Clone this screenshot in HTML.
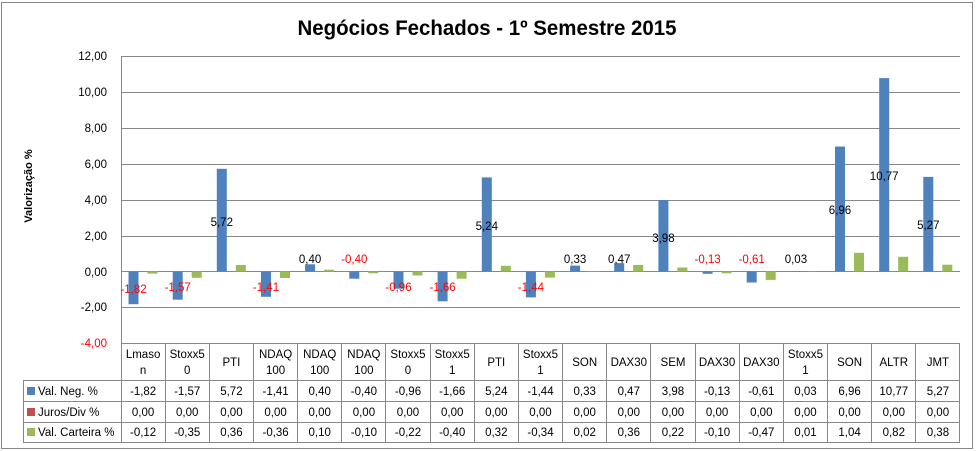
<!DOCTYPE html>
<html><head><meta charset="utf-8"><style>
html,body{margin:0;padding:0;background:#fff;}
svg{display:block;font-family:"Liberation Sans",sans-serif;}
.t{font-size:11.5px;fill:#000;text-anchor:middle;}
.r{font-size:11.5px;fill:#ff0000;text-anchor:middle;}
.y{font-size:11.5px;fill:#000;text-anchor:end;}
.l{font-size:11.5px;fill:#000;}
</style></head><body>
<svg width="976" height="451" viewBox="0 0 976 451" xmlns="http://www.w3.org/2000/svg">
<rect x="1.5" y="2.5" width="971" height="446" fill="#fff" stroke="#888"/>
<text x="487" y="35" font-size="21" font-weight="bold" text-anchor="middle" textLength="379" lengthAdjust="spacingAndGlyphs">Negócios Fechados - 1º Semestre 2015</text>
<text transform="translate(32,186) rotate(-90)" font-size="11" font-weight="bold" text-anchor="middle">Valorização %</text>
<g stroke="#888" stroke-width="1">
<line x1="121" y1="56.5" x2="960" y2="56.5"/>
<line x1="121" y1="92.5" x2="960" y2="92.5"/>
<line x1="121" y1="128.5" x2="960" y2="128.5"/>
<line x1="121" y1="164.5" x2="960" y2="164.5"/>
<line x1="121" y1="200.5" x2="960" y2="200.5"/>
<line x1="121" y1="236.5" x2="960" y2="236.5"/>
<line x1="121" y1="271.5" x2="960" y2="271.5"/>
<line x1="121" y1="307.5" x2="960" y2="307.5"/>
<line x1="121" y1="343.5" x2="960" y2="343.5"/>
<line x1="121.5" y1="56" x2="121.5" y2="443"/>
</g>
<g>
<text class="y" x="107" y="60">12,00</text>
<text class="y" x="107" y="96">10,00</text>
<text class="y" x="107" y="132">8,00</text>
<text class="y" x="107" y="168">6,00</text>
<text class="y" x="107" y="204">4,00</text>
<text class="y" x="107" y="240">2,00</text>
<text class="y" x="107" y="276">0,00</text>
<text class="y" x="107" y="311">-2,00</text>
<text class="y" x="107" y="347" style="fill:#ff0000">-4,00</text>
</g>
<g fill="#4F81BD">
<rect x="128.5" y="271.5" width="10" height="32.7"/>
<rect x="172.7" y="271.5" width="10" height="28.2"/>
<rect x="216.8" y="168.8" width="10" height="102.7"/>
<rect x="261" y="271.5" width="10" height="25.3"/>
<rect x="305.1" y="264.3" width="10" height="7.2"/>
<rect x="349.3" y="271.5" width="10" height="7.2"/>
<rect x="393.5" y="271.5" width="10" height="17.2"/>
<rect x="437.6" y="271.5" width="10" height="29.8"/>
<rect x="481.8" y="177.4" width="10" height="94.1"/>
<rect x="525.9" y="271.5" width="10" height="25.9"/>
<rect x="570.1" y="265.6" width="10" height="5.9"/>
<rect x="614.2" y="263.1" width="10" height="8.4"/>
<rect x="658.4" y="200" width="10" height="71.5"/>
<rect x="702.6" y="271.5" width="10" height="2.3"/>
<rect x="746.7" y="271.5" width="10" height="11"/>
<rect x="790.9" y="271" width="10" height="0.5"/>
<rect x="835" y="146.5" width="10" height="125"/>
<rect x="879.2" y="78.1" width="10" height="193.4"/>
<rect x="923.3" y="176.9" width="10" height="94.6"/>
</g>
<g fill="#9BBB59">
<rect x="147.5" y="271.5" width="10" height="2.2"/>
<rect x="191.7" y="271.5" width="10" height="6.3"/>
<rect x="235.8" y="265" width="10" height="6.5"/>
<rect x="280" y="271.5" width="10" height="6.5"/>
<rect x="324.1" y="269.7" width="10" height="1.8"/>
<rect x="368.3" y="271.5" width="10" height="1.8"/>
<rect x="412.5" y="271.5" width="10" height="4"/>
<rect x="456.6" y="271.5" width="10" height="7.2"/>
<rect x="500.8" y="265.8" width="10" height="5.7"/>
<rect x="544.9" y="271.5" width="10" height="6.1"/>
<rect x="589.1" y="271.1" width="10" height="0.4"/>
<rect x="633.2" y="265" width="10" height="6.5"/>
<rect x="677.4" y="267.5" width="10" height="4"/>
<rect x="721.6" y="271.5" width="10" height="1.8"/>
<rect x="765.7" y="271.5" width="10" height="8.4"/>
<rect x="809.9" y="271.3" width="10" height="0.2"/>
<rect x="854" y="252.8" width="10" height="18.7"/>
<rect x="898.2" y="256.8" width="10" height="14.7"/>
<rect x="942.3" y="264.7" width="10" height="6.8"/>
</g>
<g>
<text class="r" x="133.5" y="293">-1,82</text>
<text class="r" x="177.7" y="291">-1,57</text>
<text class="t" x="221.8" y="226">5,72</text>
<text class="r" x="266" y="291">-1,41</text>
<text class="t" x="310.1" y="263">0,40</text>
<text class="r" x="354.3" y="263">-0,40</text>
<text class="r" x="398.5" y="291">-0,96</text>
<text class="r" x="442.6" y="291">-1,66</text>
<text class="t" x="486.8" y="230">5,24</text>
<text class="r" x="530.9" y="291">-1,44</text>
<text class="t" x="575.1" y="263">0,33</text>
<text class="t" x="619.2" y="263">0,47</text>
<text class="t" x="663.4" y="242">3,98</text>
<text class="r" x="707.6" y="263">-0,13</text>
<text class="r" x="751.7" y="263">-0,61</text>
<text class="t" x="795.9" y="263">0,03</text>
<text class="t" x="840" y="214">6,96</text>
<text class="t" x="884.2" y="180">10,77</text>
<text class="t" x="928.3" y="229">5,27</text>
</g>
<g stroke="#888" stroke-width="1">
<line x1="23" y1="380.5" x2="960" y2="380.5"/>
<line x1="23" y1="401.5" x2="960" y2="401.5"/>
<line x1="23" y1="422.5" x2="960" y2="422.5"/>
<line x1="23" y1="442.5" x2="960" y2="442.5"/>
<line x1="23.5" y1="380" x2="23.5" y2="443"/>
<line x1="165.5" y1="343" x2="165.5" y2="443"/>
<line x1="209.5" y1="343" x2="209.5" y2="443"/>
<line x1="253.5" y1="343" x2="253.5" y2="443"/>
<line x1="297.5" y1="343" x2="297.5" y2="443"/>
<line x1="341.5" y1="343" x2="341.5" y2="443"/>
<line x1="385.5" y1="343" x2="385.5" y2="443"/>
<line x1="430.5" y1="343" x2="430.5" y2="443"/>
<line x1="474.5" y1="343" x2="474.5" y2="443"/>
<line x1="518.5" y1="343" x2="518.5" y2="443"/>
<line x1="562.5" y1="343" x2="562.5" y2="443"/>
<line x1="606.5" y1="343" x2="606.5" y2="443"/>
<line x1="650.5" y1="343" x2="650.5" y2="443"/>
<line x1="695.5" y1="343" x2="695.5" y2="443"/>
<line x1="739.5" y1="343" x2="739.5" y2="443"/>
<line x1="783.5" y1="343" x2="783.5" y2="443"/>
<line x1="827.5" y1="343" x2="827.5" y2="443"/>
<line x1="871.5" y1="343" x2="871.5" y2="443"/>
<line x1="915.5" y1="343" x2="915.5" y2="443"/>
<line x1="959.5" y1="343" x2="959.5" y2="443"/>
</g>
<g>
<text class="t" x="143.1" y="358">Lmaso</text><text class="t" x="143.1" y="374">n</text>
<text class="t" x="187.2" y="358">Stoxx5</text><text class="t" x="187.2" y="374">0</text>
<text class="t" x="231.4" y="366">PTI</text>
<text class="t" x="275.6" y="358">NDAQ</text><text class="t" x="275.6" y="374">100</text>
<text class="t" x="319.7" y="358">NDAQ</text><text class="t" x="319.7" y="374">100</text>
<text class="t" x="363.9" y="358">NDAQ</text><text class="t" x="363.9" y="374">100</text>
<text class="t" x="408" y="358">Stoxx5</text><text class="t" x="408" y="374">0</text>
<text class="t" x="452.2" y="358">Stoxx5</text><text class="t" x="452.2" y="374">1</text>
<text class="t" x="496.3" y="366">PTI</text>
<text class="t" x="540.5" y="358">Stoxx5</text><text class="t" x="540.5" y="374">1</text>
<text class="t" x="584.7" y="366">SON</text>
<text class="t" x="628.8" y="366">DAX30</text>
<text class="t" x="673" y="366">SEM</text>
<text class="t" x="717.1" y="366">DAX30</text>
<text class="t" x="761.3" y="366">DAX30</text>
<text class="t" x="805.5" y="358">Stoxx5</text><text class="t" x="805.5" y="374">1</text>
<text class="t" x="849.6" y="366">SON</text>
<text class="t" x="893.8" y="366">ALTR</text>
<text class="t" x="937.9" y="366">JMT</text>
</g>
<rect x="27" y="387" width="8" height="8" fill="#4F81BD"/>
<rect x="27" y="408" width="8" height="8" fill="#C0504D"/>
<rect x="27" y="428" width="8" height="8" fill="#9BBB59"/>
<text class="l" x="38" y="395">Val. Neg. %</text>
<text class="l" x="38" y="416">Juros/Div %</text>
<text class="l" x="38" y="436">Val. Carteira %</text>
<g>
<text class="t" x="143.1" y="395">-1,82</text><text class="t" x="187.2" y="395">-1,57</text><text class="t" x="231.4" y="395">5,72</text><text class="t" x="275.6" y="395">-1,41</text><text class="t" x="319.7" y="395">0,40</text><text class="t" x="363.9" y="395">-0,40</text><text class="t" x="408" y="395">-0,96</text><text class="t" x="452.2" y="395">-1,66</text><text class="t" x="496.3" y="395">5,24</text><text class="t" x="540.5" y="395">-1,44</text><text class="t" x="584.7" y="395">0,33</text><text class="t" x="628.8" y="395">0,47</text><text class="t" x="673" y="395">3,98</text><text class="t" x="717.1" y="395">-0,13</text><text class="t" x="761.3" y="395">-0,61</text><text class="t" x="805.5" y="395">0,03</text><text class="t" x="849.6" y="395">6,96</text><text class="t" x="893.8" y="395">10,77</text><text class="t" x="937.9" y="395">5,27</text>
<text class="t" x="143.1" y="416">0,00</text><text class="t" x="187.2" y="416">0,00</text><text class="t" x="231.4" y="416">0,00</text><text class="t" x="275.6" y="416">0,00</text><text class="t" x="319.7" y="416">0,00</text><text class="t" x="363.9" y="416">0,00</text><text class="t" x="408" y="416">0,00</text><text class="t" x="452.2" y="416">0,00</text><text class="t" x="496.3" y="416">0,00</text><text class="t" x="540.5" y="416">0,00</text><text class="t" x="584.7" y="416">0,00</text><text class="t" x="628.8" y="416">0,00</text><text class="t" x="673" y="416">0,00</text><text class="t" x="717.1" y="416">0,00</text><text class="t" x="761.3" y="416">0,00</text><text class="t" x="805.5" y="416">0,00</text><text class="t" x="849.6" y="416">0,00</text><text class="t" x="893.8" y="416">0,00</text><text class="t" x="937.9" y="416">0,00</text>
<text class="t" x="143.1" y="436">-0,12</text><text class="t" x="187.2" y="436">-0,35</text><text class="t" x="231.4" y="436">0,36</text><text class="t" x="275.6" y="436">-0,36</text><text class="t" x="319.7" y="436">0,10</text><text class="t" x="363.9" y="436">-0,10</text><text class="t" x="408" y="436">-0,22</text><text class="t" x="452.2" y="436">-0,40</text><text class="t" x="496.3" y="436">0,32</text><text class="t" x="540.5" y="436">-0,34</text><text class="t" x="584.7" y="436">0,02</text><text class="t" x="628.8" y="436">0,36</text><text class="t" x="673" y="436">0,22</text><text class="t" x="717.1" y="436">-0,10</text><text class="t" x="761.3" y="436">-0,47</text><text class="t" x="805.5" y="436">0,01</text><text class="t" x="849.6" y="436">1,04</text><text class="t" x="893.8" y="436">0,82</text><text class="t" x="937.9" y="436">0,38</text>
</g>
</svg>
</body></html>
